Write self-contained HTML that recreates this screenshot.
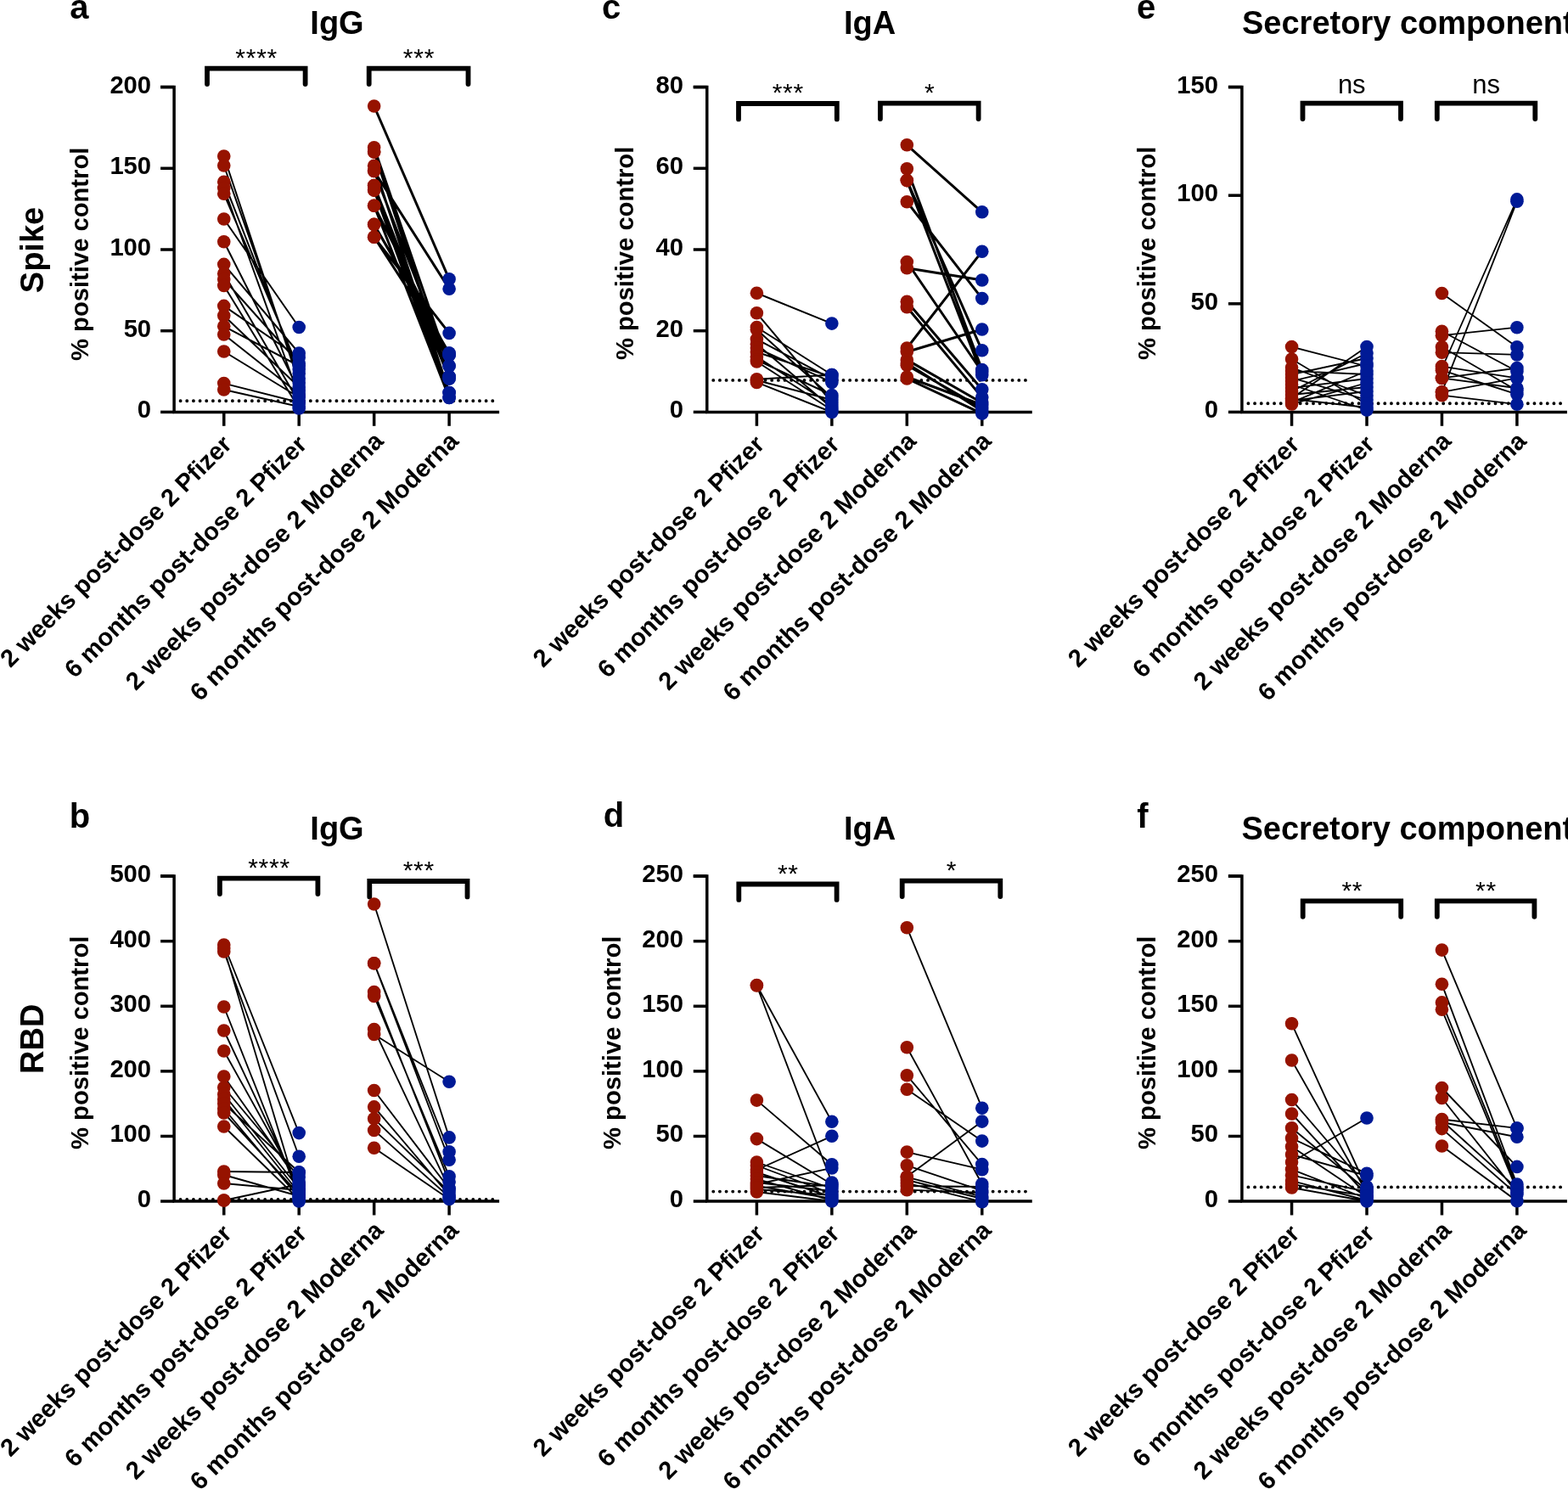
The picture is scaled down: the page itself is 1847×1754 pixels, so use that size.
<!DOCTYPE html>
<html><head><meta charset="utf-8"><title>Figure</title>
<style>html,body{margin:0;padding:0;background:#fff;overflow:hidden}svg{display:block}text{font-family:'Liberation Sans', Arial, sans-serif;fill:#000}.b{font-weight:bold}</style></head><body>
<svg width="1847" height="1754" viewBox="0 0 1847 1754">
<rect width="1847" height="1754" fill="#fff"/>
<g>
<text class="b" x="82.2" y="22.3" font-size="40">a</text>
<text class="b" x="397" y="40" font-size="38" text-anchor="middle">IgG</text>
<text class="b" font-size="29.2" text-anchor="middle" transform="translate(103.9 299.3) rotate(-90)">% positive control</text>
<text class="b" font-size="38" text-anchor="middle" transform="translate(50.7 294.5) rotate(-90)">Spike</text>
<line x1="212.6" y1="472.3" x2="582.1" y2="472.3" stroke="#000" stroke-width="3.9" stroke-linecap="round" stroke-dasharray="0 7.66"/>
<path d="M189.1 102.6H205.1V485.4H588.1" fill="none" stroke="#000" stroke-width="3.5" stroke-linejoin="miter" stroke-linecap="butt"/>
<line x1="189.1" y1="485.4" x2="205.1" y2="485.4" stroke="#000" stroke-width="3.5"/>
<text class="b" x="178.1" y="492.3" font-size="29.2" text-anchor="end">0</text>
<line x1="189.1" y1="389.7" x2="205.1" y2="389.7" stroke="#000" stroke-width="3.5"/>
<text class="b" x="178.1" y="396.6" font-size="29.2" text-anchor="end">50</text>
<line x1="189.1" y1="294" x2="205.1" y2="294" stroke="#000" stroke-width="3.5"/>
<text class="b" x="178.1" y="300.9" font-size="29.2" text-anchor="end">100</text>
<line x1="189.1" y1="198.3" x2="205.1" y2="198.3" stroke="#000" stroke-width="3.5"/>
<text class="b" x="178.1" y="205.2" font-size="29.2" text-anchor="end">150</text>
<line x1="189.1" y1="102.6" x2="205.1" y2="102.6" stroke="#000" stroke-width="3.5"/>
<text class="b" x="178.1" y="109.5" font-size="29.2" text-anchor="end">200</text>
<line x1="263.75" y1="485.4" x2="263.75" y2="501.8" stroke="#000" stroke-width="3.5"/>
<text class="b" font-size="29.15" text-anchor="end" transform="translate(274.45 525.3) rotate(-45)">2 weeks post-dose 2 Pfizer</text>
<line x1="352.2" y1="485.4" x2="352.2" y2="501.8" stroke="#000" stroke-width="3.5"/>
<text class="b" font-size="29.15" text-anchor="end" transform="translate(362.9 525.3) rotate(-45)">6 months post-dose 2 Pfizer</text>
<line x1="440.65" y1="485.4" x2="440.65" y2="501.8" stroke="#000" stroke-width="3.5"/>
<text class="b" font-size="29.28" text-anchor="end" transform="translate(453.19 521.34) rotate(-45)">2 weeks post-dose 2 Moderna</text>
<line x1="529.1" y1="485.4" x2="529.1" y2="501.8" stroke="#000" stroke-width="3.5"/>
<text class="b" font-size="29.28" text-anchor="end" transform="translate(541.64 521.34) rotate(-45)">6 months post-dose 2 Moderna</text>
<path d="M244 99V80.6H359.6V99" fill="none" stroke="#000" stroke-width="5.8" stroke-linejoin="miter" stroke-linecap="round"/>
<text x="302.17" y="77.9" font-size="30" letter-spacing="0.75" text-anchor="middle">****</text>
<path d="M434.7 99V80.6H551.5V99" fill="none" stroke="#000" stroke-width="5.8" stroke-linejoin="miter" stroke-linecap="round"/>
<text x="493.47" y="77.9" font-size="30" letter-spacing="0.75" text-anchor="middle">***</text>
<path d="M263.75 184L352.2 451M263.75 195L352.2 446M263.75 214.3L352.2 440M263.75 221.5L352.2 467M263.75 228.3L352.2 435M263.75 258L352.2 385.5M263.75 284.7L352.2 460M263.75 311.4L352.2 416M263.75 322.2L352.2 474M263.75 329L352.2 428M263.75 336.5L352.2 481M263.75 360.4L352.2 421M263.75 371.8L352.2 456M263.75 384.3L352.2 431M263.75 394L352.2 464M263.75 414L352.2 468M263.75 451.6L352.2 474M263.75 459L352.2 479" fill="none" stroke="#000" stroke-width="2"/>
<path d="M440.65 125L529.1 328.8M440.65 173.7L529.1 431M440.65 178.9L529.1 446M440.65 195.2L529.1 462.5M440.65 201.5L529.1 340.2M440.65 218.5L529.1 443.5M440.65 224.1L529.1 468.4M440.65 242.2L529.1 418.6M440.65 264.4L529.1 416M440.65 279.3L529.1 392.4M440.65 178.9L529.1 443.5M440.65 201.5L529.1 431M440.65 218.5L529.1 462.5M440.65 224.1L529.1 446M440.65 242.2L529.1 468.4M440.65 264.4L529.1 418.6M440.65 279.3L529.1 416" fill="none" stroke="#000" stroke-width="3"/>
<circle cx="263.75" cy="184" r="7.8" fill="#961300"/>
<circle cx="263.75" cy="195" r="7.8" fill="#961300"/>
<circle cx="263.75" cy="214.3" r="7.8" fill="#961300"/>
<circle cx="263.75" cy="221.5" r="7.8" fill="#961300"/>
<circle cx="263.75" cy="228.3" r="7.8" fill="#961300"/>
<circle cx="263.75" cy="258" r="7.8" fill="#961300"/>
<circle cx="263.75" cy="284.7" r="7.8" fill="#961300"/>
<circle cx="263.75" cy="311.4" r="7.8" fill="#961300"/>
<circle cx="263.75" cy="322.2" r="7.8" fill="#961300"/>
<circle cx="263.75" cy="329" r="7.8" fill="#961300"/>
<circle cx="263.75" cy="336.5" r="7.8" fill="#961300"/>
<circle cx="263.75" cy="360.4" r="7.8" fill="#961300"/>
<circle cx="263.75" cy="371.8" r="7.8" fill="#961300"/>
<circle cx="263.75" cy="384.3" r="7.8" fill="#961300"/>
<circle cx="263.75" cy="394" r="7.8" fill="#961300"/>
<circle cx="263.75" cy="414" r="7.8" fill="#961300"/>
<circle cx="263.75" cy="451.6" r="7.8" fill="#961300"/>
<circle cx="263.75" cy="459" r="7.8" fill="#961300"/>
<circle cx="352.2" cy="451" r="7.8" fill="#001a96"/>
<circle cx="352.2" cy="446" r="7.8" fill="#001a96"/>
<circle cx="352.2" cy="440" r="7.8" fill="#001a96"/>
<circle cx="352.2" cy="467" r="7.8" fill="#001a96"/>
<circle cx="352.2" cy="435" r="7.8" fill="#001a96"/>
<circle cx="352.2" cy="385.5" r="7.8" fill="#001a96"/>
<circle cx="352.2" cy="460" r="7.8" fill="#001a96"/>
<circle cx="352.2" cy="416" r="7.8" fill="#001a96"/>
<circle cx="352.2" cy="474" r="7.8" fill="#001a96"/>
<circle cx="352.2" cy="428" r="7.8" fill="#001a96"/>
<circle cx="352.2" cy="481" r="7.8" fill="#001a96"/>
<circle cx="352.2" cy="421" r="7.8" fill="#001a96"/>
<circle cx="352.2" cy="456" r="7.8" fill="#001a96"/>
<circle cx="352.2" cy="431" r="7.8" fill="#001a96"/>
<circle cx="352.2" cy="464" r="7.8" fill="#001a96"/>
<circle cx="352.2" cy="468" r="7.8" fill="#001a96"/>
<circle cx="352.2" cy="474" r="7.8" fill="#001a96"/>
<circle cx="352.2" cy="479" r="7.8" fill="#001a96"/>
<circle cx="440.65" cy="125" r="7.8" fill="#961300"/>
<circle cx="440.65" cy="173.7" r="7.8" fill="#961300"/>
<circle cx="440.65" cy="178.9" r="7.8" fill="#961300"/>
<circle cx="440.65" cy="195.2" r="7.8" fill="#961300"/>
<circle cx="440.65" cy="201.5" r="7.8" fill="#961300"/>
<circle cx="440.65" cy="218.5" r="7.8" fill="#961300"/>
<circle cx="440.65" cy="224.1" r="7.8" fill="#961300"/>
<circle cx="440.65" cy="242.2" r="7.8" fill="#961300"/>
<circle cx="440.65" cy="264.4" r="7.8" fill="#961300"/>
<circle cx="440.65" cy="279.3" r="7.8" fill="#961300"/>
<circle cx="440.65" cy="178.9" r="7.8" fill="#961300"/>
<circle cx="440.65" cy="201.5" r="7.8" fill="#961300"/>
<circle cx="440.65" cy="218.5" r="7.8" fill="#961300"/>
<circle cx="440.65" cy="224.1" r="7.8" fill="#961300"/>
<circle cx="440.65" cy="242.2" r="7.8" fill="#961300"/>
<circle cx="440.65" cy="264.4" r="7.8" fill="#961300"/>
<circle cx="440.65" cy="279.3" r="7.8" fill="#961300"/>
<circle cx="529.1" cy="328.8" r="7.8" fill="#001a96"/>
<circle cx="529.1" cy="431" r="7.8" fill="#001a96"/>
<circle cx="529.1" cy="446" r="7.8" fill="#001a96"/>
<circle cx="529.1" cy="462.5" r="7.8" fill="#001a96"/>
<circle cx="529.1" cy="340.2" r="7.8" fill="#001a96"/>
<circle cx="529.1" cy="443.5" r="7.8" fill="#001a96"/>
<circle cx="529.1" cy="468.4" r="7.8" fill="#001a96"/>
<circle cx="529.1" cy="418.6" r="7.8" fill="#001a96"/>
<circle cx="529.1" cy="416" r="7.8" fill="#001a96"/>
<circle cx="529.1" cy="392.4" r="7.8" fill="#001a96"/>
<circle cx="529.1" cy="443.5" r="7.8" fill="#001a96"/>
<circle cx="529.1" cy="431" r="7.8" fill="#001a96"/>
<circle cx="529.1" cy="462.5" r="7.8" fill="#001a96"/>
<circle cx="529.1" cy="446" r="7.8" fill="#001a96"/>
<circle cx="529.1" cy="468.4" r="7.8" fill="#001a96"/>
<circle cx="529.1" cy="418.6" r="7.8" fill="#001a96"/>
<circle cx="529.1" cy="416" r="7.8" fill="#001a96"/>
</g>
<g>
<text class="b" x="709" y="22.3" font-size="40">c</text>
<text class="b" x="1024.6" y="40" font-size="38" text-anchor="middle">IgA</text>
<text class="b" font-size="29.2" text-anchor="middle" transform="translate(746.4 298.4) rotate(-90)">% positive control</text>
<line x1="840.25" y1="447.9" x2="1209.75" y2="447.9" stroke="#000" stroke-width="3.9" stroke-linecap="round" stroke-dasharray="0 7.66"/>
<path d="M816.75 102.6H832.75V485.4H1215.75" fill="none" stroke="#000" stroke-width="3.5" stroke-linejoin="miter" stroke-linecap="butt"/>
<line x1="816.75" y1="485.4" x2="832.75" y2="485.4" stroke="#000" stroke-width="3.5"/>
<text class="b" x="804.9" y="492.3" font-size="29.2" text-anchor="end">0</text>
<line x1="816.75" y1="389.7" x2="832.75" y2="389.7" stroke="#000" stroke-width="3.5"/>
<text class="b" x="804.9" y="396.6" font-size="29.2" text-anchor="end">20</text>
<line x1="816.75" y1="294" x2="832.75" y2="294" stroke="#000" stroke-width="3.5"/>
<text class="b" x="804.9" y="300.9" font-size="29.2" text-anchor="end">40</text>
<line x1="816.75" y1="198.3" x2="832.75" y2="198.3" stroke="#000" stroke-width="3.5"/>
<text class="b" x="804.9" y="205.2" font-size="29.2" text-anchor="end">60</text>
<line x1="816.75" y1="102.6" x2="832.75" y2="102.6" stroke="#000" stroke-width="3.5"/>
<text class="b" x="804.9" y="109.5" font-size="29.2" text-anchor="end">80</text>
<line x1="891.4" y1="485.4" x2="891.4" y2="501.8" stroke="#000" stroke-width="3.5"/>
<text class="b" font-size="29.15" text-anchor="end" transform="translate(902.1 525.3) rotate(-45)">2 weeks post-dose 2 Pfizer</text>
<line x1="979.85" y1="485.4" x2="979.85" y2="501.8" stroke="#000" stroke-width="3.5"/>
<text class="b" font-size="29.15" text-anchor="end" transform="translate(990.55 525.3) rotate(-45)">6 months post-dose 2 Pfizer</text>
<line x1="1068.3" y1="485.4" x2="1068.3" y2="501.8" stroke="#000" stroke-width="3.5"/>
<text class="b" font-size="29.28" text-anchor="end" transform="translate(1080.84 521.34) rotate(-45)">2 weeks post-dose 2 Moderna</text>
<line x1="1156.75" y1="485.4" x2="1156.75" y2="501.8" stroke="#000" stroke-width="3.5"/>
<text class="b" font-size="29.28" text-anchor="end" transform="translate(1169.29 521.34) rotate(-45)">6 months post-dose 2 Moderna</text>
<path d="M870 140.4V122H985.8V140.4" fill="none" stroke="#000" stroke-width="5.8" stroke-linejoin="miter" stroke-linecap="round"/>
<text x="928.27" y="119.3" font-size="30" letter-spacing="0.75" text-anchor="middle">***</text>
<path d="M1036.9 140.1V121.7H1152.6V140.1" fill="none" stroke="#000" stroke-width="5.8" stroke-linejoin="miter" stroke-linecap="round"/>
<text x="1095.12" y="119" font-size="30" letter-spacing="0.75" text-anchor="middle">*</text>
<path d="M891.4 345.3L979.85 381.1M891.4 368.8L979.85 474M891.4 385.5L979.85 441.5M891.4 388.3L979.85 468M891.4 399.6L979.85 446.7M891.4 405.3L979.85 480.5M891.4 410L979.85 450.4M891.4 414.7L979.85 444M891.4 420.3L979.85 477M891.4 424L979.85 465.5M891.4 426L979.85 483M891.4 446.7L979.85 441.5M891.4 448L979.85 471M891.4 450.4L979.85 485.5" fill="none" stroke="#000" stroke-width="2"/>
<path d="M1068.3 170.8L1156.75 249.8M1068.3 198.7L1156.75 435.5M1068.3 212.6L1156.75 412.8M1068.3 212.6L1156.75 441.8M1068.3 237.7L1156.75 351.6M1068.3 308.5L1156.75 438M1068.3 315.7L1156.75 330M1068.3 355.3L1156.75 458.7M1068.3 361.7L1156.75 468.1M1068.3 410L1156.75 296.2M1068.3 414.5L1156.75 388M1068.3 423.9L1156.75 474.5M1068.3 430.2L1156.75 480.8M1068.3 446L1156.75 487.1M1068.3 444L1156.75 477M1068.3 428L1156.75 484" fill="none" stroke="#000" stroke-width="3"/>
<circle cx="891.4" cy="345.3" r="7.8" fill="#961300"/>
<circle cx="891.4" cy="368.8" r="7.8" fill="#961300"/>
<circle cx="891.4" cy="385.5" r="7.8" fill="#961300"/>
<circle cx="891.4" cy="388.3" r="7.8" fill="#961300"/>
<circle cx="891.4" cy="399.6" r="7.8" fill="#961300"/>
<circle cx="891.4" cy="405.3" r="7.8" fill="#961300"/>
<circle cx="891.4" cy="410" r="7.8" fill="#961300"/>
<circle cx="891.4" cy="414.7" r="7.8" fill="#961300"/>
<circle cx="891.4" cy="420.3" r="7.8" fill="#961300"/>
<circle cx="891.4" cy="424" r="7.8" fill="#961300"/>
<circle cx="891.4" cy="426" r="7.8" fill="#961300"/>
<circle cx="891.4" cy="446.7" r="7.8" fill="#961300"/>
<circle cx="891.4" cy="448" r="7.8" fill="#961300"/>
<circle cx="891.4" cy="450.4" r="7.8" fill="#961300"/>
<circle cx="979.85" cy="381.1" r="7.8" fill="#001a96"/>
<circle cx="979.85" cy="474" r="7.8" fill="#001a96"/>
<circle cx="979.85" cy="441.5" r="7.8" fill="#001a96"/>
<circle cx="979.85" cy="468" r="7.8" fill="#001a96"/>
<circle cx="979.85" cy="446.7" r="7.8" fill="#001a96"/>
<circle cx="979.85" cy="480.5" r="7.8" fill="#001a96"/>
<circle cx="979.85" cy="450.4" r="7.8" fill="#001a96"/>
<circle cx="979.85" cy="444" r="7.8" fill="#001a96"/>
<circle cx="979.85" cy="477" r="7.8" fill="#001a96"/>
<circle cx="979.85" cy="465.5" r="7.8" fill="#001a96"/>
<circle cx="979.85" cy="483" r="7.8" fill="#001a96"/>
<circle cx="979.85" cy="441.5" r="7.8" fill="#001a96"/>
<circle cx="979.85" cy="471" r="7.8" fill="#001a96"/>
<circle cx="979.85" cy="485.5" r="7.8" fill="#001a96"/>
<circle cx="1068.3" cy="170.8" r="7.8" fill="#961300"/>
<circle cx="1068.3" cy="198.7" r="7.8" fill="#961300"/>
<circle cx="1068.3" cy="212.6" r="7.8" fill="#961300"/>
<circle cx="1068.3" cy="212.6" r="7.8" fill="#961300"/>
<circle cx="1068.3" cy="237.7" r="7.8" fill="#961300"/>
<circle cx="1068.3" cy="308.5" r="7.8" fill="#961300"/>
<circle cx="1068.3" cy="315.7" r="7.8" fill="#961300"/>
<circle cx="1068.3" cy="355.3" r="7.8" fill="#961300"/>
<circle cx="1068.3" cy="361.7" r="7.8" fill="#961300"/>
<circle cx="1068.3" cy="410" r="7.8" fill="#961300"/>
<circle cx="1068.3" cy="414.5" r="7.8" fill="#961300"/>
<circle cx="1068.3" cy="423.9" r="7.8" fill="#961300"/>
<circle cx="1068.3" cy="430.2" r="7.8" fill="#961300"/>
<circle cx="1068.3" cy="446" r="7.8" fill="#961300"/>
<circle cx="1068.3" cy="444" r="7.8" fill="#961300"/>
<circle cx="1068.3" cy="428" r="7.8" fill="#961300"/>
<circle cx="1156.75" cy="249.8" r="7.8" fill="#001a96"/>
<circle cx="1156.75" cy="435.5" r="7.8" fill="#001a96"/>
<circle cx="1156.75" cy="412.8" r="7.8" fill="#001a96"/>
<circle cx="1156.75" cy="441.8" r="7.8" fill="#001a96"/>
<circle cx="1156.75" cy="351.6" r="7.8" fill="#001a96"/>
<circle cx="1156.75" cy="438" r="7.8" fill="#001a96"/>
<circle cx="1156.75" cy="330" r="7.8" fill="#001a96"/>
<circle cx="1156.75" cy="458.7" r="7.8" fill="#001a96"/>
<circle cx="1156.75" cy="468.1" r="7.8" fill="#001a96"/>
<circle cx="1156.75" cy="296.2" r="7.8" fill="#001a96"/>
<circle cx="1156.75" cy="388" r="7.8" fill="#001a96"/>
<circle cx="1156.75" cy="474.5" r="7.8" fill="#001a96"/>
<circle cx="1156.75" cy="480.8" r="7.8" fill="#001a96"/>
<circle cx="1156.75" cy="487.1" r="7.8" fill="#001a96"/>
<circle cx="1156.75" cy="477" r="7.8" fill="#001a96"/>
<circle cx="1156.75" cy="484" r="7.8" fill="#001a96"/>
</g>
<g>
<text class="b" x="1339" y="22.3" font-size="40">e</text>
<text class="b" x="1463" y="40.3" font-size="38" text-anchor="start">Secretory component</text>
<text class="b" font-size="29.2" text-anchor="middle" transform="translate(1361.1 298.4) rotate(-90)">% positive control</text>
<line x1="1470.4" y1="475.2" x2="1839.9" y2="475.2" stroke="#000" stroke-width="3.9" stroke-linecap="round" stroke-dasharray="0 7.66"/>
<path d="M1446.9 102.6H1462.9V485.4H1845.9" fill="none" stroke="#000" stroke-width="3.5" stroke-linejoin="miter" stroke-linecap="butt"/>
<line x1="1446.9" y1="485.4" x2="1462.9" y2="485.4" stroke="#000" stroke-width="3.5"/>
<text class="b" x="1434.9" y="492.3" font-size="29.2" text-anchor="end">0</text>
<line x1="1446.9" y1="357.8" x2="1462.9" y2="357.8" stroke="#000" stroke-width="3.5"/>
<text class="b" x="1434.9" y="364.7" font-size="29.2" text-anchor="end">50</text>
<line x1="1446.9" y1="230.2" x2="1462.9" y2="230.2" stroke="#000" stroke-width="3.5"/>
<text class="b" x="1434.9" y="237.1" font-size="29.2" text-anchor="end">100</text>
<line x1="1446.9" y1="102.6" x2="1462.9" y2="102.6" stroke="#000" stroke-width="3.5"/>
<text class="b" x="1434.9" y="109.5" font-size="29.2" text-anchor="end">150</text>
<line x1="1521.55" y1="485.4" x2="1521.55" y2="501.8" stroke="#000" stroke-width="3.5"/>
<text class="b" font-size="29.15" text-anchor="end" transform="translate(1532.25 525.3) rotate(-45)">2 weeks post-dose 2 Pfizer</text>
<line x1="1610" y1="485.4" x2="1610" y2="501.8" stroke="#000" stroke-width="3.5"/>
<text class="b" font-size="29.15" text-anchor="end" transform="translate(1620.7 525.3) rotate(-45)">6 months post-dose 2 Pfizer</text>
<line x1="1698.45" y1="485.4" x2="1698.45" y2="501.8" stroke="#000" stroke-width="3.5"/>
<text class="b" font-size="29.28" text-anchor="end" transform="translate(1710.99 521.34) rotate(-45)">2 weeks post-dose 2 Moderna</text>
<line x1="1786.9" y1="485.4" x2="1786.9" y2="501.8" stroke="#000" stroke-width="3.5"/>
<text class="b" font-size="29.28" text-anchor="end" transform="translate(1799.44 521.34) rotate(-45)">6 months post-dose 2 Moderna</text>
<path d="M1534.5 140V121.6H1650V140" fill="none" stroke="#000" stroke-width="5.8" stroke-linejoin="miter" stroke-linecap="round"/>
<text x="1592.25" y="110.1" font-size="31" text-anchor="middle">ns</text>
<path d="M1692.8 140V121.6H1808.3V140" fill="none" stroke="#000" stroke-width="5.8" stroke-linejoin="miter" stroke-linecap="round"/>
<text x="1750.55" y="110.1" font-size="31" text-anchor="middle">ns</text>
<path d="M1521.55 408.6L1610 431.5M1521.55 423.1L1610 476M1521.55 433L1610 466M1521.55 437L1610 441M1521.55 441L1610 422M1521.55 445L1610 471M1521.55 449L1610 428M1521.55 453L1610 483M1521.55 457L1610 446M1521.55 461L1610 416M1521.55 465L1610 456M1521.55 469L1610 408.6M1521.55 472L1610 461M1521.55 474L1610 437M1521.55 470L1610 480M1521.55 476L1610 451" fill="none" stroke="#000" stroke-width="1.8"/>
<path d="M1698.45 345.5L1786.9 408.7M1698.45 390.3L1786.9 437.5M1698.45 395.2L1786.9 385.7M1698.45 408.7L1786.9 460M1698.45 415.2L1786.9 417.9M1698.45 431.6L1786.9 445.4M1698.45 434L1786.9 234.9M1698.45 436.2L1786.9 464.4M1698.45 445.4L1786.9 433.6M1698.45 445.4L1786.9 457.2M1698.45 461.8L1786.9 237.2M1698.45 461.8L1786.9 445.4M1698.45 465.7L1786.9 476.2" fill="none" stroke="#000" stroke-width="1.8"/>
<circle cx="1521.55" cy="408.6" r="7.8" fill="#961300"/>
<circle cx="1521.55" cy="423.1" r="7.8" fill="#961300"/>
<circle cx="1521.55" cy="433" r="7.8" fill="#961300"/>
<circle cx="1521.55" cy="437" r="7.8" fill="#961300"/>
<circle cx="1521.55" cy="441" r="7.8" fill="#961300"/>
<circle cx="1521.55" cy="445" r="7.8" fill="#961300"/>
<circle cx="1521.55" cy="449" r="7.8" fill="#961300"/>
<circle cx="1521.55" cy="453" r="7.8" fill="#961300"/>
<circle cx="1521.55" cy="457" r="7.8" fill="#961300"/>
<circle cx="1521.55" cy="461" r="7.8" fill="#961300"/>
<circle cx="1521.55" cy="465" r="7.8" fill="#961300"/>
<circle cx="1521.55" cy="469" r="7.8" fill="#961300"/>
<circle cx="1521.55" cy="472" r="7.8" fill="#961300"/>
<circle cx="1521.55" cy="474" r="7.8" fill="#961300"/>
<circle cx="1521.55" cy="470" r="7.8" fill="#961300"/>
<circle cx="1521.55" cy="476" r="7.8" fill="#961300"/>
<circle cx="1610" cy="431.5" r="7.8" fill="#001a96"/>
<circle cx="1610" cy="476" r="7.8" fill="#001a96"/>
<circle cx="1610" cy="466" r="7.8" fill="#001a96"/>
<circle cx="1610" cy="441" r="7.8" fill="#001a96"/>
<circle cx="1610" cy="422" r="7.8" fill="#001a96"/>
<circle cx="1610" cy="471" r="7.8" fill="#001a96"/>
<circle cx="1610" cy="428" r="7.8" fill="#001a96"/>
<circle cx="1610" cy="483" r="7.8" fill="#001a96"/>
<circle cx="1610" cy="446" r="7.8" fill="#001a96"/>
<circle cx="1610" cy="416" r="7.8" fill="#001a96"/>
<circle cx="1610" cy="456" r="7.8" fill="#001a96"/>
<circle cx="1610" cy="408.6" r="7.8" fill="#001a96"/>
<circle cx="1610" cy="461" r="7.8" fill="#001a96"/>
<circle cx="1610" cy="437" r="7.8" fill="#001a96"/>
<circle cx="1610" cy="480" r="7.8" fill="#001a96"/>
<circle cx="1610" cy="451" r="7.8" fill="#001a96"/>
<circle cx="1698.45" cy="345.5" r="7.8" fill="#961300"/>
<circle cx="1698.45" cy="390.3" r="7.8" fill="#961300"/>
<circle cx="1698.45" cy="395.2" r="7.8" fill="#961300"/>
<circle cx="1698.45" cy="408.7" r="7.8" fill="#961300"/>
<circle cx="1698.45" cy="415.2" r="7.8" fill="#961300"/>
<circle cx="1698.45" cy="431.6" r="7.8" fill="#961300"/>
<circle cx="1698.45" cy="434" r="7.8" fill="#961300"/>
<circle cx="1698.45" cy="436.2" r="7.8" fill="#961300"/>
<circle cx="1698.45" cy="445.4" r="7.8" fill="#961300"/>
<circle cx="1698.45" cy="445.4" r="7.8" fill="#961300"/>
<circle cx="1698.45" cy="461.8" r="7.8" fill="#961300"/>
<circle cx="1698.45" cy="461.8" r="7.8" fill="#961300"/>
<circle cx="1698.45" cy="465.7" r="7.8" fill="#961300"/>
<circle cx="1786.9" cy="408.7" r="7.8" fill="#001a96"/>
<circle cx="1786.9" cy="437.5" r="7.8" fill="#001a96"/>
<circle cx="1786.9" cy="385.7" r="7.8" fill="#001a96"/>
<circle cx="1786.9" cy="460" r="7.8" fill="#001a96"/>
<circle cx="1786.9" cy="417.9" r="7.8" fill="#001a96"/>
<circle cx="1786.9" cy="445.4" r="7.8" fill="#001a96"/>
<circle cx="1786.9" cy="234.9" r="7.8" fill="#001a96"/>
<circle cx="1786.9" cy="464.4" r="7.8" fill="#001a96"/>
<circle cx="1786.9" cy="433.6" r="7.8" fill="#001a96"/>
<circle cx="1786.9" cy="457.2" r="7.8" fill="#001a96"/>
<circle cx="1786.9" cy="237.2" r="7.8" fill="#001a96"/>
<circle cx="1786.9" cy="445.4" r="7.8" fill="#001a96"/>
<circle cx="1786.9" cy="476.2" r="7.8" fill="#001a96"/>
</g>
<g>
<text class="b" x="81.7" y="974.7" font-size="40">b</text>
<text class="b" x="397" y="989.4" font-size="38" text-anchor="middle">IgG</text>
<text class="b" font-size="29.2" text-anchor="middle" transform="translate(103.9 1228.3) rotate(-90)">% positive control</text>
<text class="b" font-size="38" text-anchor="middle" transform="translate(50.7 1223.8) rotate(-90)">RBD</text>
<line x1="212.6" y1="1413" x2="582.1" y2="1413" stroke="#000" stroke-width="3.9" stroke-linecap="round" stroke-dasharray="0 7.66"/>
<path d="M189.1 1032.1H205.1V1415.05H588.1" fill="none" stroke="#000" stroke-width="3.5" stroke-linejoin="miter" stroke-linecap="butt"/>
<line x1="189.1" y1="1415.05" x2="205.1" y2="1415.05" stroke="#000" stroke-width="3.5"/>
<text class="b" x="178.1" y="1421.95" font-size="29.2" text-anchor="end">0</text>
<line x1="189.1" y1="1338.46" x2="205.1" y2="1338.46" stroke="#000" stroke-width="3.5"/>
<text class="b" x="178.1" y="1345.36" font-size="29.2" text-anchor="end">100</text>
<line x1="189.1" y1="1261.87" x2="205.1" y2="1261.87" stroke="#000" stroke-width="3.5"/>
<text class="b" x="178.1" y="1268.77" font-size="29.2" text-anchor="end">200</text>
<line x1="189.1" y1="1185.28" x2="205.1" y2="1185.28" stroke="#000" stroke-width="3.5"/>
<text class="b" x="178.1" y="1192.18" font-size="29.2" text-anchor="end">300</text>
<line x1="189.1" y1="1108.69" x2="205.1" y2="1108.69" stroke="#000" stroke-width="3.5"/>
<text class="b" x="178.1" y="1115.59" font-size="29.2" text-anchor="end">400</text>
<line x1="189.1" y1="1032.1" x2="205.1" y2="1032.1" stroke="#000" stroke-width="3.5"/>
<text class="b" x="178.1" y="1039" font-size="29.2" text-anchor="end">500</text>
<line x1="263.75" y1="1415.05" x2="263.75" y2="1431.45" stroke="#000" stroke-width="3.5"/>
<text class="b" font-size="29.15" text-anchor="end" transform="translate(274.45 1454.95) rotate(-45)">2 weeks post-dose 2 Pfizer</text>
<line x1="352.2" y1="1415.05" x2="352.2" y2="1431.45" stroke="#000" stroke-width="3.5"/>
<text class="b" font-size="29.15" text-anchor="end" transform="translate(362.9 1454.95) rotate(-45)">6 months post-dose 2 Pfizer</text>
<line x1="440.65" y1="1415.05" x2="440.65" y2="1431.45" stroke="#000" stroke-width="3.5"/>
<text class="b" font-size="29.28" text-anchor="end" transform="translate(453.19 1450.99) rotate(-45)">2 weeks post-dose 2 Moderna</text>
<line x1="529.1" y1="1415.05" x2="529.1" y2="1431.45" stroke="#000" stroke-width="3.5"/>
<text class="b" font-size="29.28" text-anchor="end" transform="translate(541.64 1450.99) rotate(-45)">6 months post-dose 2 Moderna</text>
<path d="M258.9 1053V1034.6H374.4V1053" fill="none" stroke="#000" stroke-width="5.8" stroke-linejoin="miter" stroke-linecap="round"/>
<text x="317.02" y="1031.9" font-size="30" letter-spacing="0.75" text-anchor="middle">****</text>
<path d="M435.3 1056.4V1038H550.5V1056.4" fill="none" stroke="#000" stroke-width="5.8" stroke-linejoin="miter" stroke-linecap="round"/>
<text x="493.27" y="1035.3" font-size="30" letter-spacing="0.75" text-anchor="middle">***</text>
<path d="M263.75 1113L352.2 1334.6M263.75 1121L352.2 1362.3M263.75 1117L352.2 1412M263.75 1186L352.2 1409M263.75 1214L352.2 1402M263.75 1238L352.2 1397M263.75 1268L352.2 1392.7M263.75 1281L352.2 1386.7M263.75 1289L352.2 1400M263.75 1295L352.2 1405M263.75 1300L352.2 1380.7M263.75 1306L352.2 1411M263.75 1311L352.2 1407M263.75 1327L352.2 1413M263.75 1380L352.2 1381M263.75 1384L352.2 1409M263.75 1394L352.2 1402M263.75 1414L352.2 1395M263.75 1414L352.2 1415" fill="none" stroke="#000" stroke-width="1.85"/>
<path d="M440.65 1065L529.1 1339.9M440.65 1134.7L529.1 1366.2M440.65 1168.6L529.1 1392.3M440.65 1173.5L529.1 1385.7M440.65 1212.5L529.1 1400.1M440.65 1218.5L529.1 1274.3M440.65 1284.5L529.1 1400.1M440.65 1303.9L529.1 1407.9M440.65 1317.8L529.1 1404M440.65 1331.4L529.1 1410M440.65 1352.3L529.1 1412.4M440.65 1134.7L529.1 1356.8" fill="none" stroke="#000" stroke-width="1.85"/>
<circle cx="263.75" cy="1113" r="7.8" fill="#961300"/>
<circle cx="263.75" cy="1121" r="7.8" fill="#961300"/>
<circle cx="263.75" cy="1117" r="7.8" fill="#961300"/>
<circle cx="263.75" cy="1186" r="7.8" fill="#961300"/>
<circle cx="263.75" cy="1214" r="7.8" fill="#961300"/>
<circle cx="263.75" cy="1238" r="7.8" fill="#961300"/>
<circle cx="263.75" cy="1268" r="7.8" fill="#961300"/>
<circle cx="263.75" cy="1281" r="7.8" fill="#961300"/>
<circle cx="263.75" cy="1289" r="7.8" fill="#961300"/>
<circle cx="263.75" cy="1295" r="7.8" fill="#961300"/>
<circle cx="263.75" cy="1300" r="7.8" fill="#961300"/>
<circle cx="263.75" cy="1306" r="7.8" fill="#961300"/>
<circle cx="263.75" cy="1311" r="7.8" fill="#961300"/>
<circle cx="263.75" cy="1327" r="7.8" fill="#961300"/>
<circle cx="263.75" cy="1380" r="7.8" fill="#961300"/>
<circle cx="263.75" cy="1384" r="7.8" fill="#961300"/>
<circle cx="263.75" cy="1394" r="7.8" fill="#961300"/>
<circle cx="263.75" cy="1414" r="7.8" fill="#961300"/>
<circle cx="263.75" cy="1414" r="7.8" fill="#961300"/>
<circle cx="352.2" cy="1334.6" r="7.8" fill="#001a96"/>
<circle cx="352.2" cy="1362.3" r="7.8" fill="#001a96"/>
<circle cx="352.2" cy="1412" r="7.8" fill="#001a96"/>
<circle cx="352.2" cy="1409" r="7.8" fill="#001a96"/>
<circle cx="352.2" cy="1402" r="7.8" fill="#001a96"/>
<circle cx="352.2" cy="1397" r="7.8" fill="#001a96"/>
<circle cx="352.2" cy="1392.7" r="7.8" fill="#001a96"/>
<circle cx="352.2" cy="1386.7" r="7.8" fill="#001a96"/>
<circle cx="352.2" cy="1400" r="7.8" fill="#001a96"/>
<circle cx="352.2" cy="1405" r="7.8" fill="#001a96"/>
<circle cx="352.2" cy="1380.7" r="7.8" fill="#001a96"/>
<circle cx="352.2" cy="1411" r="7.8" fill="#001a96"/>
<circle cx="352.2" cy="1407" r="7.8" fill="#001a96"/>
<circle cx="352.2" cy="1413" r="7.8" fill="#001a96"/>
<circle cx="352.2" cy="1381" r="7.8" fill="#001a96"/>
<circle cx="352.2" cy="1409" r="7.8" fill="#001a96"/>
<circle cx="352.2" cy="1402" r="7.8" fill="#001a96"/>
<circle cx="352.2" cy="1395" r="7.8" fill="#001a96"/>
<circle cx="352.2" cy="1415" r="7.8" fill="#001a96"/>
<circle cx="440.65" cy="1065" r="7.8" fill="#961300"/>
<circle cx="440.65" cy="1134.7" r="7.8" fill="#961300"/>
<circle cx="440.65" cy="1168.6" r="7.8" fill="#961300"/>
<circle cx="440.65" cy="1173.5" r="7.8" fill="#961300"/>
<circle cx="440.65" cy="1212.5" r="7.8" fill="#961300"/>
<circle cx="440.65" cy="1218.5" r="7.8" fill="#961300"/>
<circle cx="440.65" cy="1284.5" r="7.8" fill="#961300"/>
<circle cx="440.65" cy="1303.9" r="7.8" fill="#961300"/>
<circle cx="440.65" cy="1317.8" r="7.8" fill="#961300"/>
<circle cx="440.65" cy="1331.4" r="7.8" fill="#961300"/>
<circle cx="440.65" cy="1352.3" r="7.8" fill="#961300"/>
<circle cx="440.65" cy="1134.7" r="7.8" fill="#961300"/>
<circle cx="529.1" cy="1339.9" r="7.8" fill="#001a96"/>
<circle cx="529.1" cy="1366.2" r="7.8" fill="#001a96"/>
<circle cx="529.1" cy="1392.3" r="7.8" fill="#001a96"/>
<circle cx="529.1" cy="1385.7" r="7.8" fill="#001a96"/>
<circle cx="529.1" cy="1400.1" r="7.8" fill="#001a96"/>
<circle cx="529.1" cy="1274.3" r="7.8" fill="#001a96"/>
<circle cx="529.1" cy="1400.1" r="7.8" fill="#001a96"/>
<circle cx="529.1" cy="1407.9" r="7.8" fill="#001a96"/>
<circle cx="529.1" cy="1404" r="7.8" fill="#001a96"/>
<circle cx="529.1" cy="1410" r="7.8" fill="#001a96"/>
<circle cx="529.1" cy="1412.4" r="7.8" fill="#001a96"/>
<circle cx="529.1" cy="1356.8" r="7.8" fill="#001a96"/>
</g>
<g>
<text class="b" x="710.8" y="974.4" font-size="40">d</text>
<text class="b" x="1024.6" y="989.3" font-size="38" text-anchor="middle">IgA</text>
<text class="b" font-size="29.2" text-anchor="middle" transform="translate(731.1 1228.3) rotate(-90)">% positive control</text>
<line x1="840.25" y1="1403.6" x2="1209.75" y2="1403.6" stroke="#000" stroke-width="3.9" stroke-linecap="round" stroke-dasharray="0 7.66"/>
<path d="M816.75 1032.1H832.75V1415.05H1215.75" fill="none" stroke="#000" stroke-width="3.5" stroke-linejoin="miter" stroke-linecap="butt"/>
<line x1="816.75" y1="1415.05" x2="832.75" y2="1415.05" stroke="#000" stroke-width="3.5"/>
<text class="b" x="804.9" y="1421.95" font-size="29.2" text-anchor="end">0</text>
<line x1="816.75" y1="1338.46" x2="832.75" y2="1338.46" stroke="#000" stroke-width="3.5"/>
<text class="b" x="804.9" y="1345.36" font-size="29.2" text-anchor="end">50</text>
<line x1="816.75" y1="1261.87" x2="832.75" y2="1261.87" stroke="#000" stroke-width="3.5"/>
<text class="b" x="804.9" y="1268.77" font-size="29.2" text-anchor="end">100</text>
<line x1="816.75" y1="1185.28" x2="832.75" y2="1185.28" stroke="#000" stroke-width="3.5"/>
<text class="b" x="804.9" y="1192.18" font-size="29.2" text-anchor="end">150</text>
<line x1="816.75" y1="1108.69" x2="832.75" y2="1108.69" stroke="#000" stroke-width="3.5"/>
<text class="b" x="804.9" y="1115.59" font-size="29.2" text-anchor="end">200</text>
<line x1="816.75" y1="1032.1" x2="832.75" y2="1032.1" stroke="#000" stroke-width="3.5"/>
<text class="b" x="804.9" y="1039" font-size="29.2" text-anchor="end">250</text>
<line x1="891.4" y1="1415.05" x2="891.4" y2="1431.45" stroke="#000" stroke-width="3.5"/>
<text class="b" font-size="29.15" text-anchor="end" transform="translate(902.1 1454.95) rotate(-45)">2 weeks post-dose 2 Pfizer</text>
<line x1="979.85" y1="1415.05" x2="979.85" y2="1431.45" stroke="#000" stroke-width="3.5"/>
<text class="b" font-size="29.15" text-anchor="end" transform="translate(990.55 1454.95) rotate(-45)">6 months post-dose 2 Pfizer</text>
<line x1="1068.3" y1="1415.05" x2="1068.3" y2="1431.45" stroke="#000" stroke-width="3.5"/>
<text class="b" font-size="29.28" text-anchor="end" transform="translate(1080.84 1450.99) rotate(-45)">2 weeks post-dose 2 Moderna</text>
<line x1="1156.75" y1="1415.05" x2="1156.75" y2="1431.45" stroke="#000" stroke-width="3.5"/>
<text class="b" font-size="29.28" text-anchor="end" transform="translate(1169.29 1450.99) rotate(-45)">6 months post-dose 2 Moderna</text>
<path d="M870.3 1059.9V1041.5H985.6V1059.9" fill="none" stroke="#000" stroke-width="5.8" stroke-linejoin="miter" stroke-linecap="round"/>
<text x="928.32" y="1038.8" font-size="30" letter-spacing="0.75" text-anchor="middle">**</text>
<path d="M1062.7 1056.1V1037.7H1178.3V1056.1" fill="none" stroke="#000" stroke-width="5.8" stroke-linejoin="miter" stroke-linecap="round"/>
<text x="1120.87" y="1035" font-size="30" letter-spacing="0.75" text-anchor="middle">*</text>
<path d="M891.4 1160.5L979.85 1321.3M891.4 1161L979.85 1393M891.4 1296.1L979.85 1371.7M891.4 1341.6L979.85 1395M891.4 1378L979.85 1338.3M891.4 1395L979.85 1375.9M891.4 1369L979.85 1400M891.4 1373L979.85 1406M891.4 1381L979.85 1410M891.4 1385L979.85 1398M891.4 1389L979.85 1414M891.4 1393L979.85 1403M891.4 1397L979.85 1412M891.4 1401L979.85 1408M891.4 1404L979.85 1415M891.4 1399L979.85 1396" fill="none" stroke="#000" stroke-width="1.85"/>
<path d="M1068.3 1092.7L1156.75 1305.2M1068.3 1233.7L1156.75 1394.7M1068.3 1266.8L1156.75 1371.6M1068.3 1283.2L1156.75 1344.1M1068.3 1357.1L1156.75 1377.7M1068.3 1386L1156.75 1321.1M1068.3 1372.8L1156.75 1402.7M1068.3 1386.7L1156.75 1409.7M1068.3 1393.7L1156.75 1415.7M1068.3 1401.7L1156.75 1405M1068.3 1390L1156.75 1412M1068.3 1397L1156.75 1398" fill="none" stroke="#000" stroke-width="1.85"/>
<circle cx="891.4" cy="1160.5" r="7.8" fill="#961300"/>
<circle cx="891.4" cy="1161" r="7.8" fill="#961300"/>
<circle cx="891.4" cy="1296.1" r="7.8" fill="#961300"/>
<circle cx="891.4" cy="1341.6" r="7.8" fill="#961300"/>
<circle cx="891.4" cy="1378" r="7.8" fill="#961300"/>
<circle cx="891.4" cy="1395" r="7.8" fill="#961300"/>
<circle cx="891.4" cy="1369" r="7.8" fill="#961300"/>
<circle cx="891.4" cy="1373" r="7.8" fill="#961300"/>
<circle cx="891.4" cy="1381" r="7.8" fill="#961300"/>
<circle cx="891.4" cy="1385" r="7.8" fill="#961300"/>
<circle cx="891.4" cy="1389" r="7.8" fill="#961300"/>
<circle cx="891.4" cy="1393" r="7.8" fill="#961300"/>
<circle cx="891.4" cy="1397" r="7.8" fill="#961300"/>
<circle cx="891.4" cy="1401" r="7.8" fill="#961300"/>
<circle cx="891.4" cy="1404" r="7.8" fill="#961300"/>
<circle cx="891.4" cy="1399" r="7.8" fill="#961300"/>
<circle cx="979.85" cy="1321.3" r="7.8" fill="#001a96"/>
<circle cx="979.85" cy="1393" r="7.8" fill="#001a96"/>
<circle cx="979.85" cy="1371.7" r="7.8" fill="#001a96"/>
<circle cx="979.85" cy="1395" r="7.8" fill="#001a96"/>
<circle cx="979.85" cy="1338.3" r="7.8" fill="#001a96"/>
<circle cx="979.85" cy="1375.9" r="7.8" fill="#001a96"/>
<circle cx="979.85" cy="1400" r="7.8" fill="#001a96"/>
<circle cx="979.85" cy="1406" r="7.8" fill="#001a96"/>
<circle cx="979.85" cy="1410" r="7.8" fill="#001a96"/>
<circle cx="979.85" cy="1398" r="7.8" fill="#001a96"/>
<circle cx="979.85" cy="1414" r="7.8" fill="#001a96"/>
<circle cx="979.85" cy="1403" r="7.8" fill="#001a96"/>
<circle cx="979.85" cy="1412" r="7.8" fill="#001a96"/>
<circle cx="979.85" cy="1408" r="7.8" fill="#001a96"/>
<circle cx="979.85" cy="1415" r="7.8" fill="#001a96"/>
<circle cx="979.85" cy="1396" r="7.8" fill="#001a96"/>
<circle cx="1068.3" cy="1092.7" r="7.8" fill="#961300"/>
<circle cx="1068.3" cy="1233.7" r="7.8" fill="#961300"/>
<circle cx="1068.3" cy="1266.8" r="7.8" fill="#961300"/>
<circle cx="1068.3" cy="1283.2" r="7.8" fill="#961300"/>
<circle cx="1068.3" cy="1357.1" r="7.8" fill="#961300"/>
<circle cx="1068.3" cy="1386" r="7.8" fill="#961300"/>
<circle cx="1068.3" cy="1372.8" r="7.8" fill="#961300"/>
<circle cx="1068.3" cy="1386.7" r="7.8" fill="#961300"/>
<circle cx="1068.3" cy="1393.7" r="7.8" fill="#961300"/>
<circle cx="1068.3" cy="1401.7" r="7.8" fill="#961300"/>
<circle cx="1068.3" cy="1390" r="7.8" fill="#961300"/>
<circle cx="1068.3" cy="1397" r="7.8" fill="#961300"/>
<circle cx="1156.75" cy="1305.2" r="7.8" fill="#001a96"/>
<circle cx="1156.75" cy="1394.7" r="7.8" fill="#001a96"/>
<circle cx="1156.75" cy="1371.6" r="7.8" fill="#001a96"/>
<circle cx="1156.75" cy="1344.1" r="7.8" fill="#001a96"/>
<circle cx="1156.75" cy="1377.7" r="7.8" fill="#001a96"/>
<circle cx="1156.75" cy="1321.1" r="7.8" fill="#001a96"/>
<circle cx="1156.75" cy="1402.7" r="7.8" fill="#001a96"/>
<circle cx="1156.75" cy="1409.7" r="7.8" fill="#001a96"/>
<circle cx="1156.75" cy="1415.7" r="7.8" fill="#001a96"/>
<circle cx="1156.75" cy="1405" r="7.8" fill="#001a96"/>
<circle cx="1156.75" cy="1412" r="7.8" fill="#001a96"/>
<circle cx="1156.75" cy="1398" r="7.8" fill="#001a96"/>
</g>
<g>
<text class="b" x="1339.2" y="974.6" font-size="40">f</text>
<text class="b" x="1462.5" y="988.6" font-size="38" text-anchor="start">Secretory component</text>
<text class="b" font-size="29.2" text-anchor="middle" transform="translate(1361.1 1228.3) rotate(-90)">% positive control</text>
<line x1="1470.4" y1="1398.4" x2="1839.9" y2="1398.4" stroke="#000" stroke-width="3.9" stroke-linecap="round" stroke-dasharray="0 7.66"/>
<path d="M1446.9 1032.1H1462.9V1415.05H1845.9" fill="none" stroke="#000" stroke-width="3.5" stroke-linejoin="miter" stroke-linecap="butt"/>
<line x1="1446.9" y1="1415.05" x2="1462.9" y2="1415.05" stroke="#000" stroke-width="3.5"/>
<text class="b" x="1434.9" y="1421.95" font-size="29.2" text-anchor="end">0</text>
<line x1="1446.9" y1="1338.46" x2="1462.9" y2="1338.46" stroke="#000" stroke-width="3.5"/>
<text class="b" x="1434.9" y="1345.36" font-size="29.2" text-anchor="end">50</text>
<line x1="1446.9" y1="1261.87" x2="1462.9" y2="1261.87" stroke="#000" stroke-width="3.5"/>
<text class="b" x="1434.9" y="1268.77" font-size="29.2" text-anchor="end">100</text>
<line x1="1446.9" y1="1185.28" x2="1462.9" y2="1185.28" stroke="#000" stroke-width="3.5"/>
<text class="b" x="1434.9" y="1192.18" font-size="29.2" text-anchor="end">150</text>
<line x1="1446.9" y1="1108.69" x2="1462.9" y2="1108.69" stroke="#000" stroke-width="3.5"/>
<text class="b" x="1434.9" y="1115.59" font-size="29.2" text-anchor="end">200</text>
<line x1="1446.9" y1="1032.1" x2="1462.9" y2="1032.1" stroke="#000" stroke-width="3.5"/>
<text class="b" x="1434.9" y="1039" font-size="29.2" text-anchor="end">250</text>
<line x1="1521.55" y1="1415.05" x2="1521.55" y2="1431.45" stroke="#000" stroke-width="3.5"/>
<text class="b" font-size="29.15" text-anchor="end" transform="translate(1532.25 1454.95) rotate(-45)">2 weeks post-dose 2 Pfizer</text>
<line x1="1610" y1="1415.05" x2="1610" y2="1431.45" stroke="#000" stroke-width="3.5"/>
<text class="b" font-size="29.15" text-anchor="end" transform="translate(1620.7 1454.95) rotate(-45)">6 months post-dose 2 Pfizer</text>
<line x1="1698.45" y1="1415.05" x2="1698.45" y2="1431.45" stroke="#000" stroke-width="3.5"/>
<text class="b" font-size="29.28" text-anchor="end" transform="translate(1710.99 1450.99) rotate(-45)">2 weeks post-dose 2 Moderna</text>
<line x1="1786.9" y1="1415.05" x2="1786.9" y2="1431.45" stroke="#000" stroke-width="3.5"/>
<text class="b" font-size="29.28" text-anchor="end" transform="translate(1799.44 1450.99) rotate(-45)">6 months post-dose 2 Moderna</text>
<path d="M1534.7 1079.8V1061.4H1650.2V1079.8" fill="none" stroke="#000" stroke-width="5.8" stroke-linejoin="miter" stroke-linecap="round"/>
<text x="1592.82" y="1058.7" font-size="30" letter-spacing="0.75" text-anchor="middle">**</text>
<path d="M1692.8 1079.8V1061.4H1807.4V1079.8" fill="none" stroke="#000" stroke-width="5.8" stroke-linejoin="miter" stroke-linecap="round"/>
<text x="1750.47" y="1058.7" font-size="30" letter-spacing="0.75" text-anchor="middle">**</text>
<path d="M1521.55 1205.8L1610 1400M1521.55 1249L1610 1405M1521.55 1295.5L1610 1398M1521.55 1312L1610 1408M1521.55 1328.7L1610 1402M1521.55 1340.8L1610 1382.3M1521.55 1350.8L1610 1410M1521.55 1368.9L1610 1317M1521.55 1360L1610 1385M1521.55 1377.6L1610 1412M1521.55 1384.3L1610 1404M1521.55 1391L1610 1414M1521.55 1399L1610 1415M1521.55 1395L1610 1409" fill="none" stroke="#000" stroke-width="1.85"/>
<path d="M1698.45 1119.1L1786.9 1329M1698.45 1159.3L1786.9 1395M1698.45 1180.9L1786.9 1398M1698.45 1189.3L1786.9 1402M1698.45 1281.5L1786.9 1374.4M1698.45 1293.5L1786.9 1405M1698.45 1318.5L1786.9 1329M1698.45 1322L1786.9 1339.3M1698.45 1320L1786.9 1400M1698.45 1329.6L1786.9 1407M1698.45 1350L1786.9 1414.8" fill="none" stroke="#000" stroke-width="1.85"/>
<circle cx="1521.55" cy="1205.8" r="7.8" fill="#961300"/>
<circle cx="1521.55" cy="1249" r="7.8" fill="#961300"/>
<circle cx="1521.55" cy="1295.5" r="7.8" fill="#961300"/>
<circle cx="1521.55" cy="1312" r="7.8" fill="#961300"/>
<circle cx="1521.55" cy="1328.7" r="7.8" fill="#961300"/>
<circle cx="1521.55" cy="1340.8" r="7.8" fill="#961300"/>
<circle cx="1521.55" cy="1350.8" r="7.8" fill="#961300"/>
<circle cx="1521.55" cy="1368.9" r="7.8" fill="#961300"/>
<circle cx="1521.55" cy="1360" r="7.8" fill="#961300"/>
<circle cx="1521.55" cy="1377.6" r="7.8" fill="#961300"/>
<circle cx="1521.55" cy="1384.3" r="7.8" fill="#961300"/>
<circle cx="1521.55" cy="1391" r="7.8" fill="#961300"/>
<circle cx="1521.55" cy="1399" r="7.8" fill="#961300"/>
<circle cx="1521.55" cy="1395" r="7.8" fill="#961300"/>
<circle cx="1610" cy="1400" r="7.8" fill="#001a96"/>
<circle cx="1610" cy="1405" r="7.8" fill="#001a96"/>
<circle cx="1610" cy="1398" r="7.8" fill="#001a96"/>
<circle cx="1610" cy="1408" r="7.8" fill="#001a96"/>
<circle cx="1610" cy="1402" r="7.8" fill="#001a96"/>
<circle cx="1610" cy="1382.3" r="7.8" fill="#001a96"/>
<circle cx="1610" cy="1410" r="7.8" fill="#001a96"/>
<circle cx="1610" cy="1317" r="7.8" fill="#001a96"/>
<circle cx="1610" cy="1385" r="7.8" fill="#001a96"/>
<circle cx="1610" cy="1412" r="7.8" fill="#001a96"/>
<circle cx="1610" cy="1404" r="7.8" fill="#001a96"/>
<circle cx="1610" cy="1414" r="7.8" fill="#001a96"/>
<circle cx="1610" cy="1415" r="7.8" fill="#001a96"/>
<circle cx="1610" cy="1409" r="7.8" fill="#001a96"/>
<circle cx="1698.45" cy="1119.1" r="7.8" fill="#961300"/>
<circle cx="1698.45" cy="1159.3" r="7.8" fill="#961300"/>
<circle cx="1698.45" cy="1180.9" r="7.8" fill="#961300"/>
<circle cx="1698.45" cy="1189.3" r="7.8" fill="#961300"/>
<circle cx="1698.45" cy="1281.5" r="7.8" fill="#961300"/>
<circle cx="1698.45" cy="1293.5" r="7.8" fill="#961300"/>
<circle cx="1698.45" cy="1318.5" r="7.8" fill="#961300"/>
<circle cx="1698.45" cy="1322" r="7.8" fill="#961300"/>
<circle cx="1698.45" cy="1320" r="7.8" fill="#961300"/>
<circle cx="1698.45" cy="1329.6" r="7.8" fill="#961300"/>
<circle cx="1698.45" cy="1350" r="7.8" fill="#961300"/>
<circle cx="1786.9" cy="1329" r="7.8" fill="#001a96"/>
<circle cx="1786.9" cy="1395" r="7.8" fill="#001a96"/>
<circle cx="1786.9" cy="1398" r="7.8" fill="#001a96"/>
<circle cx="1786.9" cy="1402" r="7.8" fill="#001a96"/>
<circle cx="1786.9" cy="1374.4" r="7.8" fill="#001a96"/>
<circle cx="1786.9" cy="1405" r="7.8" fill="#001a96"/>
<circle cx="1786.9" cy="1329" r="7.8" fill="#001a96"/>
<circle cx="1786.9" cy="1339.3" r="7.8" fill="#001a96"/>
<circle cx="1786.9" cy="1400" r="7.8" fill="#001a96"/>
<circle cx="1786.9" cy="1407" r="7.8" fill="#001a96"/>
<circle cx="1786.9" cy="1414.8" r="7.8" fill="#001a96"/>
</g>
</svg></body></html>
